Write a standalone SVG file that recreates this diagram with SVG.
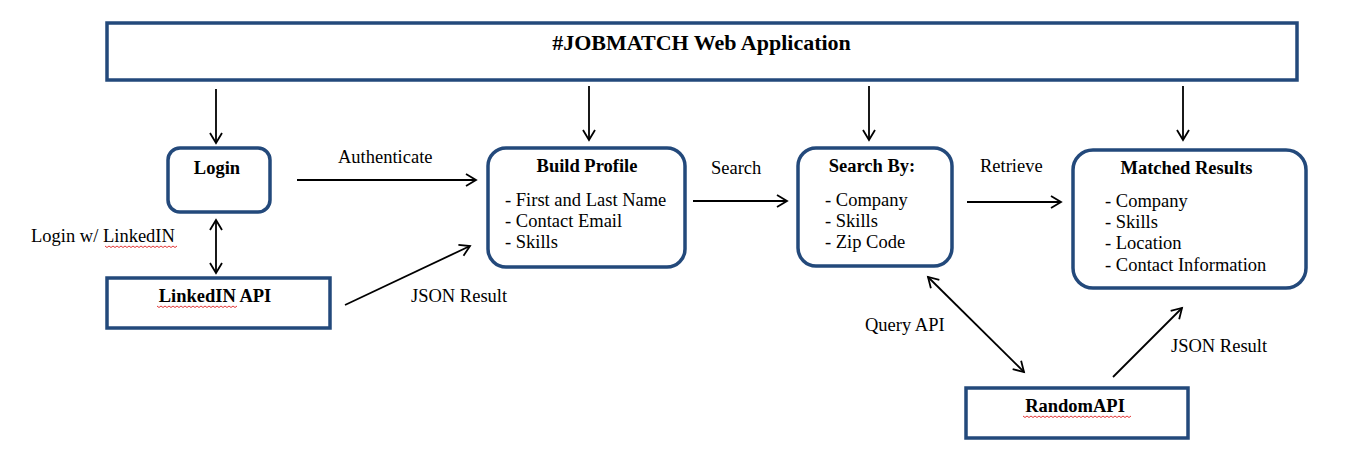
<svg xmlns="http://www.w3.org/2000/svg" width="1361" height="467" viewBox="0 0 1361 467">
<style>
.box{fill:#fff;stroke:#23497b;stroke-width:3.5}
.t{font-family:"Liberation Serif","Times New Roman",serif;font-size:18.5px;fill:#000}
.b{font-weight:bold;text-anchor:middle}
.h{font-family:"Liberation Serif","Times New Roman",serif;font-size:22px;font-weight:bold;fill:#000;text-anchor:middle}
.c{stroke:#000;stroke-width:1.8;fill:none}
.sq{stroke:#e02020;stroke-width:0.9;fill:none}
</style>
<defs>
<marker id="ah" markerUnits="userSpaceOnUse" markerWidth="14" markerHeight="16" refX="11" refY="7" orient="auto-start-reverse" viewBox="0 0 14 14">
<path d="M1,1 L11,7 L1,13" fill="none" stroke="#000" stroke-width="1.8"/>
</marker>
</defs>
<rect width="1361" height="467" fill="#fff"/>
<g id="webapp">
<rect class="box" x="107" y="23" width="1190" height="57"/>
<text class="h" x="701.5" y="50">#JOBMATCH Web Application</text>
</g>
<g id="login">
<rect class="box" x="168" y="148" width="102" height="64" rx="12"/>
<text class="t b" x="217" y="174">Login</text>
</g>
<g id="linkedin-api">
<rect class="box" x="107" y="278" width="223" height="50"/>
<text class="t b" x="215" y="302">LinkedIN API</text>
<path class="sq" d="M157,306 l2,1.5 l2,-1.5 l2,1.5 l2,-1.5 l2,1.5 l2,-1.5 l2,1.5 l2,-1.5 l2,1.5 l2,-1.5 l2,1.5 l2,-1.5 l2,1.5 l2,-1.5 l2,1.5 l2,-1.5 l2,1.5 l2,-1.5 l2,1.5 l2,-1.5 l2,1.5 l2,-1.5 l2,1.5 l2,-1.5 l2,1.5 l2,-1.5 l2,1.5 l2,-1.5 l2,1.5 l2,-1.5 l2,1.5 l2,-1.5 l2,1.5 l2,-1.5 l2,1.5 l2,-1.5 l2,1.5 l2,-1.5 l2,1.5 l2,-1.5"/>
</g>
<g id="build-profile">
<rect class="box" x="488" y="148" width="197" height="119" rx="18"/>
<text class="t b" x="587" y="172">Build Profile</text>
<text class="t" x="505" y="206">- First and Last Name</text>
<text class="t" x="505" y="227">- Contact Email</text>
<text class="t" x="505" y="248">- Skills</text>
</g>
<g id="search-by">
<rect class="box" x="798" y="148" width="154" height="118" rx="18"/>
<text class="t b" x="872" y="172">Search By:</text>
<text class="t" x="825" y="206">- Company</text>
<text class="t" x="825" y="227">- Skills</text>
<text class="t" x="825" y="248">- Zip Code</text>
</g>
<g id="matched-results">
<rect class="box" x="1073" y="150" width="233" height="138" rx="20"/>
<text class="t b" x="1186.5" y="174">Matched Results</text>
<text class="t" x="1105" y="207">- Company</text>
<text class="t" x="1105" y="228">- Skills</text>
<text class="t" x="1105" y="249">- Location</text>
<text class="t" x="1105" y="271">- Contact Information</text>
</g>
<g id="random-api">
<rect class="box" x="966" y="388" width="222" height="50"/>
<text class="t b" x="1075" y="412">RandomAPI</text>
<path class="sq" d="M1023,416 l2,1.5 l2,-1.5 l2,1.5 l2,-1.5 l2,1.5 l2,-1.5 l2,1.5 l2,-1.5 l2,1.5 l2,-1.5 l2,1.5 l2,-1.5 l2,1.5 l2,-1.5 l2,1.5 l2,-1.5 l2,1.5 l2,-1.5 l2,1.5 l2,-1.5 l2,1.5 l2,-1.5 l2,1.5 l2,-1.5 l2,1.5 l2,-1.5 l2,1.5 l2,-1.5 l2,1.5 l2,-1.5 l2,1.5 l2,-1.5 l2,1.5 l2,-1.5 l2,1.5 l2,-1.5 l2,1.5 l2,-1.5 l2,1.5 l2,-1.5 l2,1.5 l2,-1.5 l2,1.5 l2,-1.5 l2,1.5 l2,-1.5 l2,1.5 l2,-1.5 l2,1.5 l2,-1.5 l2,1.5 l2,-1.5 l2,1.5 l2,-1.5"/>
</g>
<g id="connectors">
<line class="c" x1="216" y1="89" x2="216" y2="143" marker-end="url(#ah)"/>
<line class="c" x1="589" y1="86" x2="589" y2="140" marker-end="url(#ah)"/>
<line class="c" x1="869" y1="86" x2="869" y2="140" marker-end="url(#ah)"/>
<line class="c" x1="1183" y1="86" x2="1183" y2="140" marker-end="url(#ah)"/>
<line class="c" x1="216" y1="220" x2="216" y2="273" marker-start="url(#ah)" marker-end="url(#ah)"/>
<line class="c" x1="297" y1="180" x2="476" y2="180" marker-end="url(#ah)"/>
<line class="c" x1="345" y1="305" x2="470" y2="246" marker-end="url(#ah)"/>
<line class="c" x1="693" y1="201" x2="787" y2="201" marker-end="url(#ah)"/>
<line class="c" x1="967" y1="202" x2="1061" y2="202" marker-end="url(#ah)"/>
<line class="c" x1="928" y1="277" x2="1024" y2="372" marker-start="url(#ah)" marker-end="url(#ah)"/>
<line class="c" x1="1113" y1="377" x2="1182" y2="308" marker-end="url(#ah)"/>
<text class="t" x="338" y="163">Authenticate</text>
<text class="t" x="31" y="242">Login w/ LinkedIN</text>
<path class="sq" d="M105,246 l2,1.5 l2,-1.5 l2,1.5 l2,-1.5 l2,1.5 l2,-1.5 l2,1.5 l2,-1.5 l2,1.5 l2,-1.5 l2,1.5 l2,-1.5 l2,1.5 l2,-1.5 l2,1.5 l2,-1.5 l2,1.5 l2,-1.5 l2,1.5 l2,-1.5 l2,1.5 l2,-1.5 l2,1.5 l2,-1.5 l2,1.5 l2,-1.5 l2,1.5 l2,-1.5 l2,1.5 l2,-1.5 l2,1.5 l2,-1.5 l2,1.5 l2,-1.5 l2,1.5 l2,-1.5"/>
<text class="t" x="411" y="302">JSON Result</text>
<text class="t" x="711" y="174">Search</text>
<text class="t" x="980" y="172">Retrieve</text>
<text class="t" x="865" y="331">Query API</text>
<text class="t" x="1171" y="352">JSON Result</text>
</g>
</svg>
